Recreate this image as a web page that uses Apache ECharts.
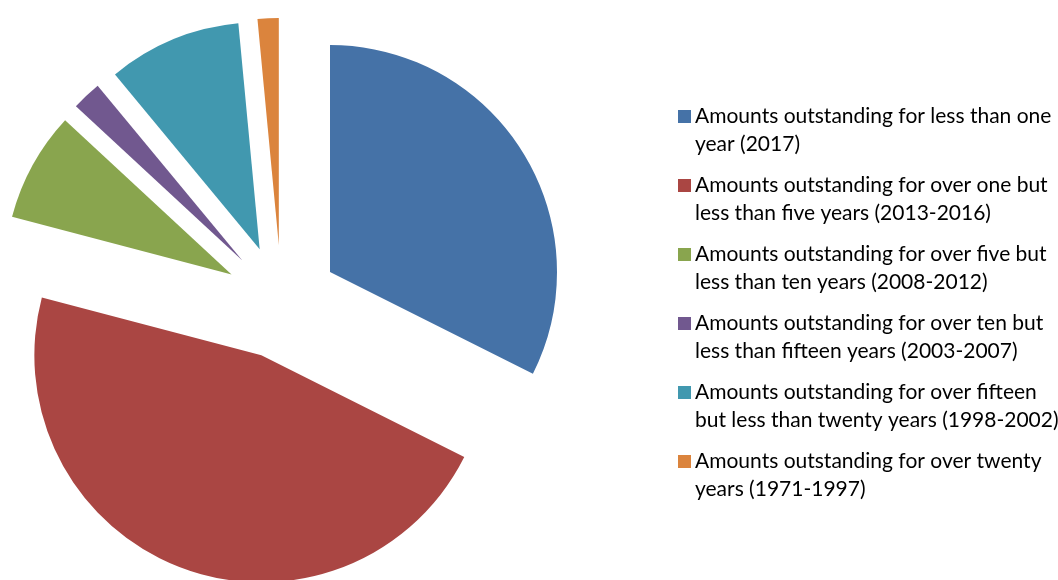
<!DOCTYPE html>
<html>
<head>
<meta charset="utf-8">
<script src="https://cdn.jsdelivr.net/npm/echarts@6/dist/echarts.min.js"></script>
<style>
  html, body { margin: 0; padding: 0; background: #ffffff; }
  #chart { width: 1058px; height: 580px; }
</style>
</head>
<body>
<div id="chart"></div>
<script>
// Data (percent shares)
const categories = [
  'Amounts outstanding for less than one year (2017)',
  'Amounts outstanding for over one but less than five years (2013-2016)',
  'Amounts outstanding for over five but less than ten years (2008-2012)',
  'Amounts outstanding for over ten but less than fifteen years (2003-2007)',
  'Amounts outstanding for over fifteen but less than twenty years (1998-2002)',
  'Amounts outstanding for over twenty years (1971-1997)'
];
const legendLabels = [
  'Amounts outstanding for less than one\nyear (2017)',
  'Amounts outstanding for over one but\nless than five years (2013-2016)',
  'Amounts outstanding for over five but\nless than ten years (2008-2012)',
  'Amounts outstanding for over ten but\nless than fifteen years (2003-2007)',
  'Amounts outstanding for over fifteen\nbut less than twenty years (1998-2002)',
  'Amounts outstanding for over twenty\nyears (1971-1997)'
];
const values = [32.4, 46.7, 7.8, 2.1, 9.5, 1.5];
const colors = ['#4572A7', '#AA4643', '#89A54E', '#71588F', '#4198AF', '#DB843D'];

const chart = echarts.init(document.getElementById('chart'), null, { renderer: 'canvas' });
const option = {
  animation: false,
  color: colors,
  legend: {
    orient: 'vertical',
    left: 678,
    top: 102,
    padding: 0,
    itemGap: 13,
    itemWidth: 13,
    itemHeight: 40,
    icon: 'path://M0,0L13,0L13,13L0,13Z M0,40L0.001,40',
    itemStyle: { borderWidth: 0 },
    textStyle: {
      fontFamily: 'Lato',
      fontSize: 21,
      lineHeight: 28,
      color: '#000000',
      padding: [0, 0, 0, -1]
    },
    selectedMode: false,
    data: categories,
    formatter: function (name) {
      return legendLabels[categories.indexOf(name)];
    }
  },
  series: [{
    type: 'pie',
    center: [281.5, 302],
    radius: 227,
    startAngle: 90,
    clockwise: true,
    selectedMode: 'multiple',
    selectedOffset: 57,
    avoidLabelOverlap: false,
    label: { show: false },
    labelLine: { show: false },
    itemStyle: { borderWidth: 0 },
    emphasis: { disabled: true },
    select: { itemStyle: { borderWidth: 0 } },
    data: categories.map((c, i) => ({ name: c, value: values[i], selected: true }))
  }]
};
chart.setOption(option);
</script>
</body>
</html>
